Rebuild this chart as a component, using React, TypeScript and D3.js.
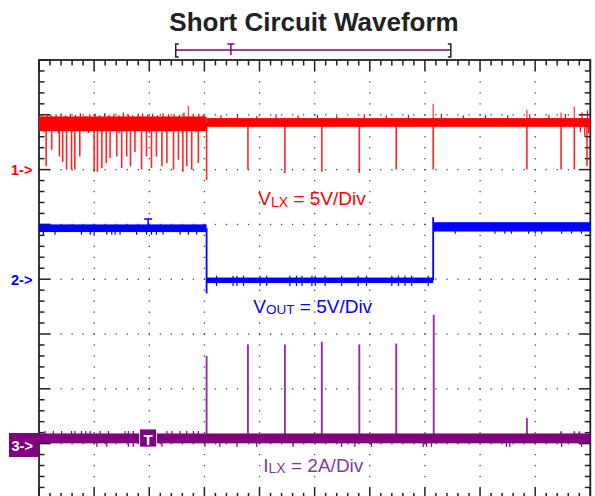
import React from 'react';
import * as d3 from 'd3';

// ---------- data (time in divisions, channel values in V or A) ----------
const timeMajor = d3.range(0, 11);
const vertMajor = d3.range(0, 9);
const titleText = 'Short Circuit Waveform';

// channel reference positions (divisions from bottom) and scale per division
const ch1Ref = 6, ch1PerDiv = 5;
const ch2Ref = 4, ch2PerDiv = 5;
const ch3Ref = 1, ch3PerDiv = 2;

// VLX (red)
const vlxLevels = [
  { t0: 0, t1: 3.04, lo: 3.5, hi: 4.85 },
  { t0: 3.04, t1: 10, lo: 3.9, hi: 4.7 },
];
const vlxSpikesDown: [number, number][] = [
  [0.13, 0.3], [0.23, 1.8], [0.37, 1.2], [0.43, 0.7], [0.5, 0.0], [0.59, 0.0], [0.65, 0.0],
  [0.74, 1.2], [1.0, -0.2], [1.06, -0.2], [1.14, 0.15], [1.22, 0.6], [1.29, 1.05], [1.41, 1.2],
  [1.5, 0.15], [1.59, 1.2], [1.66, 0.3], [1.74, 1.6], [1.86, 0.0], [1.95, 1.2], [2.04, 0.15],
  [2.13, 1.2], [2.23, 0.3], [2.32, 0.6], [2.44, 0.0], [2.53, 0.9], [2.61, -0.2], [2.68, 0.3],
  [2.77, 0.0], [2.89, 0.6], [3.04, -0.95],
  [3.79, 0.0], [4.46, -0.3], [5.13, -0.2], [5.81, -0.3], [6.48, 0.0], [7.15, 0.0],
  [8.85, 0.0], [9.47, 0.0], [9.71, 0.0], [9.94, 0.3],
];
const vlxSpikesUp: [number, number][] = [
  [2.71, 5.8], [7.15, 6.0], [8.85, 5.45], [9.47, 5.2], [9.71, 5.75],
];
const vlxFuzzUp: [number, number][] = [
  [0.05, 5.0], [0.15, 5.1], [0.22, 4.95], [0.31, 5.05], [0.4, 5.15], [0.48, 4.95], [0.57, 5.1],
  [0.66, 5.0], [0.75, 5.15], [0.83, 4.9], [0.92, 5.05], [1.02, 5.1], [1.1, 4.95], [1.19, 5.15],
  [1.27, 5.0], [1.36, 5.1], [1.45, 4.95], [1.53, 5.2], [1.62, 5.05], [1.7, 4.95], [1.8, 5.1],
  [1.88, 5.15], [1.97, 5.0], [2.06, 5.1], [2.15, 4.95], [2.25, 5.15], [2.35, 5.05], [2.45, 5.1],
  [2.55, 5.0], [2.63, 5.2], [2.8, 5.05], [2.9, 5.1], [2.98, 5.0],
  [3.3, 4.95], [3.6, 5.0], [3.95, 4.9], [4.3, 5.05], [4.7, 4.95], [5.05, 5.0], [5.4, 4.9],
  [5.9, 5.05], [6.3, 4.95], [6.7, 5.0], [7.3, 5.1], [7.7, 4.95], [8.1, 5.0], [8.5, 4.95],
  [8.9, 5.05], [9.25, 5.0], [9.55, 5.1], [9.85, 5.2], [9.95, 5.4],
];
const vlxFuzzDown: [number, number][] = [
  [0.1, 3.4], [0.35, 3.3], [0.6, 3.45], [0.9, 3.35], [1.15, 3.4], [1.45, 3.3], [1.75, 3.45],
  [2.0, 3.35], [2.3, 3.4], [2.6, 3.3], [2.85, 3.4], [9.82, 3.4], [9.9, 3.0], [9.97, 3.3],
];

// VOUT (blue)
const voutLevels = [
  { t0: 0, t1: 3.04, lo: 4.3, hi: 5.0 },
  { t0: 3.04, t1: 7.15, lo: -0.35, hi: 0.15 },
  { t0: 7.15, t1: 10, lo: 4.35, hi: 5.2 },
];
const voutEdges: [number, number, number][] = [
  [3.04, 4.65, -1.3],
  [7.15, -0.1, 5.65],
];
const voutNotchHigh1 = [0.08, 0.29, 0.77, 0.93, 1.0, 1.23, 1.32, 1.38, 1.47, 1.77, 1.95, 2.04, 2.13, 2.25, 2.56, 2.71, 2.86];
const voutNotchHigh1V = 4.05;
const voutTickLow = [3.22, 3.52, 3.59, 3.71, 4.01, 4.13, 4.55, 4.67, 4.77, 4.95, 5.01, 5.19, 5.49, 5.79, 5.94, 6.4, 6.52, 6.64, 6.76, 7.06];
const voutTickLowV: [number, number] = [-0.62, 0.32];
const voutNotchHigh2 = [7.55, 8.27, 8.45, 8.57, 8.88, 9.0, 9.12, 9.48, 9.66, 9.84];
const voutNotchHigh2V = 4.15;

// ILX (purple)
const ilxLevels = [{ t0: 0, t1: 10, lo: 0.01, hi: 0.37 }];
const ilxSpikes: [number, number][] = [
  [3.04, 3.2], [3.79, 3.62], [4.46, 3.62], [5.13, 3.72], [5.81, 3.62], [6.48, 3.65],
  [7.16, 4.7], [8.85, 0.93], [9.47, 0.45], [9.71, 0.45], [9.8, 0.45],
];
const ilxNotchDown = [1.05, 1.23, 1.62, 1.71, 2.23, 3.01, 3.28, 3.59, 3.95, 4.61, 5.49, 5.73, 6.03, 6.97, 7.03, 7.12, 8.48, 8.54, 9.48, 9.84];
const ilxNotchDownV = -0.12;
const ilxTickUp = [0.11, 0.26, 0.41, 0.59, 0.65, 0.77, 0.85, 0.93, 1.11, 1.26, 1.56, 1.62, 1.71, 2.32, 2.41, 2.56, 2.68, 2.8, 2.89];
const ilxTickUpV = 0.46;

// trigger markers
const triggerT = 1.98;
const recordBracket: [number, number] = [2.48, 7.47];
const recordTriggerT = 3.48;

// ---------- layout ----------
const W = 595, H = 496;
const plotL = 39, plotR = 590.3, plotT = 60, plotB = 498.4;
const FONT = "'Liberation Sans', Arial, Helvetica, sans-serif";
const RED = '#ff0000', BLUE = '#0000ff', PURPLE = '#800080';

export default function App() {
  const x = d3.scaleLinear().domain([0, 10]).range([plotL, plotR]);
  const y = d3.scaleLinear().domain([0, 8]).range([plotB, plotT]);
  const c1 = (v: number) => y(ch1Ref + v / ch1PerDiv);
  const c2 = (v: number) => y(ch2Ref + v / ch2PerDiv);
  const c3 = (v: number) => y(ch3Ref + v / ch3PerDiv);

  const minorX = d3.range(0, 50.001, 1).map((i) => i / 5);
  const minorY = d3.range(0, 40.001, 1).map((i) => i / 5);

  const dots: JSX.Element[] = [];
  timeMajor.slice(1, -1).forEach((t) => {
    minorY.slice(1, -1).forEach((v, i) => {
      dots.push(<rect key={`dv${t}-${i}`} x={x(t) - 0.6} y={y(v) - 0.6} width={1.3} height={1.3} fill="#444" />);
    });
  });
  vertMajor.slice(1, -1).forEach((v) => {
    minorX.slice(1, -1).forEach((t, i) => {
      dots.push(<rect key={`dh${v}-${i}`} x={x(t) - 0.6} y={y(v) - 0.6} width={1.3} height={1.3} fill="#444" />);
    });
  });

  const ticks: JSX.Element[] = [];
  minorX.forEach((t, i) => {
    const len = i % 5 === 0 ? 11 : 5.5;
    ticks.push(<line key={`tt${i}`} x1={x(t)} x2={x(t)} y1={plotT} y2={plotT + len} stroke="#222" strokeWidth={1.5} />);
    ticks.push(<line key={`tb${i}`} x1={x(t)} x2={x(t)} y1={plotB} y2={plotB - len} stroke="#222" strokeWidth={1.5} />);
  });
  minorY.forEach((v, i) => {
    const len = i % 5 === 0 ? 11 : 5.5;
    ticks.push(<line key={`tl${i}`} x1={plotL} x2={plotL + len} y1={y(v)} y2={y(v)} stroke="#222" strokeWidth={1.5} />);
    ticks.push(<line key={`tr${i}`} x1={plotR} x2={plotR - len} y1={y(v)} y2={y(v)} stroke="#222" strokeWidth={1.5} />);
  });

  const band = (lv: { t0: number; t1: number; lo: number; hi: number }[], f: (v: number) => number, color: string, k: string) =>
    lv.map((s, i) => (
      <rect key={`${k}${i}`} x={x(s.t0)} y={f(s.hi)} width={x(s.t1) - x(s.t0)} height={f(s.lo) - f(s.hi)} fill={color} />
    ));
  const vline = (t: number, a: number, b: number, color: string, w: number, k: string, op = 1) => (
    <line key={k} x1={x(t)} x2={x(t)} y1={a} y2={b} stroke={color} strokeWidth={w} opacity={op} />
  );

  const vlxMid = c1(4.3);
  const ilxMid = c3(0.19);

  return (
    <svg width={W} height={H} style={{ position: 'absolute', left: 0, top: 0, background: '#fff' }} fontFamily={FONT}>
      <rect x={0} y={0} width={W} height={H} fill="#fff" />
      {/* title */}
      <text x={314} y={31} textAnchor="middle" fontSize={26} fontWeight="bold" fill="#222">{titleText}</text>

      {/* record bracket */}
      <line x1={x(recordBracket[0])} x2={x(recordBracket[1])} y1={50} y2={50} stroke={PURPLE} strokeWidth={1.5} />
      <path d={`M${x(recordBracket[0]) + 3},44 H${x(recordBracket[0])} V57 H${x(recordBracket[0]) + 3}`} fill="none" stroke="#222" strokeWidth={1.5} />
      <path d={`M${x(recordBracket[1]) - 3},44 H${x(recordBracket[1])} V57 H${x(recordBracket[1]) - 3}`} fill="none" stroke="#222" strokeWidth={1.5} />
      <path d={`M${x(recordTriggerT) - 3.5},44 H${x(recordTriggerT) + 3.5} M${x(recordTriggerT)},44 V55`} fill="none" stroke={PURPLE} strokeWidth={1.5} />

      {/* grid */}
      {dots}
      {ticks}
      <rect x={plotL} y={plotT} width={plotR - plotL} height={plotB - plotT} fill="none" stroke="#222" strokeWidth={1.8} />

      {/* VLX red */}
      <g>
        {band(vlxLevels, c1, RED, 'vb')}
        {vlxFuzzUp.map(([t, v], i) => vline(t, vlxMid, c1(v), RED, 1.2, `vfu${i}`))}
        {vlxFuzzDown.map(([t, v], i) => vline(t, vlxMid, c1(v), RED, 1.2, `vfd${i}`))}
        {vlxSpikesDown.map(([t, v], i) => vline(t, vlxMid, c1(v), RED, 1.6, `vsd${i}`, 0.85))}
        {vlxSpikesUp.map(([t, v], i) => vline(t, vlxMid, c1(v), RED, 1.3, `vsu${i}`, 0.75))}
      </g>

      {/* VOUT blue */}
      <g>
        {band(voutLevels, c2, BLUE, 'ob')}
        {voutEdges.map(([t, a, b], i) => vline(t, c2(a), c2(b), BLUE, 1.8, `oe${i}`))}
        {voutNotchHigh1.map((t, i) => vline(t, c2(4.6), c2(voutNotchHigh1V), BLUE, 1.2, `on1${i}`))}
        {voutTickLow.map((t, i) => vline(t, c2(voutTickLowV[0]), c2(voutTickLowV[1]), BLUE, 1.2, `otl${i}`))}
        {voutNotchHigh2.map((t, i) => vline(t, c2(4.7), c2(voutNotchHigh2V), BLUE, 1.2, `on2${i}`))}
        {/* trigger level marker */}
        <path d={`M${x(triggerT) - 4},${c2(5.5)} H${x(triggerT) + 4} M${x(triggerT)},${c2(5.5)} V${c2(4.8)}`} stroke={BLUE} strokeWidth={1.5} fill="none" />
      </g>

      {/* ILX purple */}
      <g>
        {ilxSpikes.map(([t, v], i) => vline(t, ilxMid, c3(v), '#952f9f', 1.9, `is${i}`))}
        {band(ilxLevels, c3, PURPLE, 'ib')}
        {ilxNotchDown.map((t, i) => vline(t, ilxMid, c3(ilxNotchDownV), PURPLE, 1.2, `ind${i}`))}
        {ilxTickUp.map((t, i) => vline(t, ilxMid, c3(ilxTickUpV), PURPLE, 1.2, `itu${i}`))}
        <rect x={x(triggerT) - 8.5} y={429} width={17} height={18} fill={PURPLE} stroke="#fff" strokeWidth={0.8} />
        <text x={x(triggerT)} y={444.5} textAnchor="middle" fontSize={15} fontWeight="bold" fill="#fff">T</text>
      </g>

      {/* channel markers */}
      <text x={11} y={y(ch1Ref) + 5.5} fontSize={14.5} fontWeight="bold" fill={RED}>1-&gt;</text>
      <text x={11} y={y(ch2Ref) + 5.5} fontSize={14.5} fontWeight="bold" fill={BLUE}>2-&gt;</text>
      <rect x={9} y={433} width={29.5} height={24} fill={PURPLE} />
      <text x={11.5} y={451} fontSize={14.5} fontWeight="bold" fill="#fff">3-&gt;</text>

      {/* channel labels */}
      <text x={258.3} y={205} fontSize={19} fill={RED}>
        V<tspan fontSize={14} dy={1.5}>LX</tspan><tspan dy={-1.5}> = 5V/Div</tspan>
      </text>
      <text x={253.3} y={312.7} fontSize={19} fill={BLUE}>
        V<tspan fontSize={13.5} dy={1.5}>OUT</tspan><tspan dy={-1.5}> = 5V/Div</tspan>
      </text>
      <text x={263.3} y={471.7} fontSize={19} fill="#7f3aa0">
        I<tspan fontSize={14} dy={1.5}>LX</tspan><tspan dy={-1.5}> = 2A/Div</tspan>
      </text>
    </svg>
  );
}
